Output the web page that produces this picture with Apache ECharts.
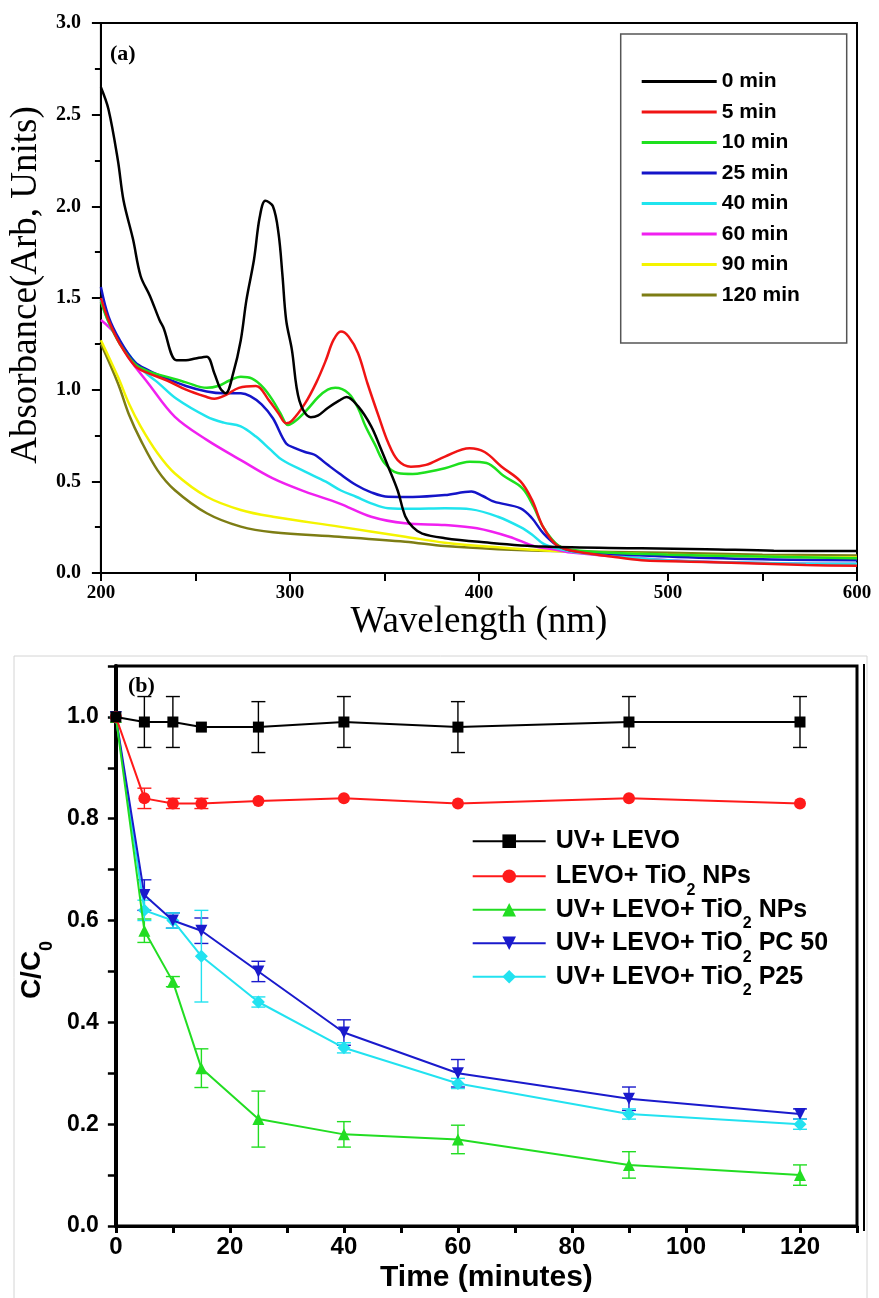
<!DOCTYPE html>
<html>
<head>
<meta charset="utf-8">
<script src="https://cdn.jsdelivr.net/npm/echarts@6/dist/echarts.min.js"></script>
<style>
  html, body { margin: 0; padding: 0; background: #fff; }
  #chart { width: 879px; height: 1298px; }
</style>
</head>
<body>
<div id="chart"></div>
<script>
// ---- panel (a): absorbance spectra, one wavelength / absorbance pair per time ----
const wl0   = [200,204,209,212,217,221,226,231,233,240,245,250,256,260,263,266,270,274,277,281,284,287,291,294,296,298,301,305,311,315,320,326,330,336,343,348,352,357,361,365,370,382,400,434,486,520,556,600];
const abs0  = [2.65,2.53,2.25,2.03,1.82,1.62,1.51,1.38,1.34,1.16,1.16,1.17,1.18,1.09,1.01,0.98,1.09,1.27,1.49,1.71,1.94,2.03,2.0,1.85,1.63,1.38,1.22,0.94,0.85,0.86,0.90,0.94,0.96,0.91,0.80,0.68,0.58,0.45,0.31,0.25,0.215,0.19,0.17,0.144,0.135,0.13,0.122,0.12];
const wl5   = [200,204,210,218,225,235,245,256,260,266,273,282,289,294,298,301,308,314,319,323,327,331,336,341,347,352,357,364,372,382,395,403,412,422,428,434,441,450,470,486,520,573,600];
const abs5  = [1.50,1.38,1.25,1.13,1.09,1.05,1.0,0.96,0.95,0.97,1.01,1.02,0.94,0.87,0.817,0.83,0.925,1.04,1.16,1.27,1.317,1.29,1.20,1.035,0.853,0.71,0.616,0.58,0.59,0.635,0.68,0.66,0.58,0.50,0.40,0.25,0.153,0.12,0.09,0.07,0.06,0.044,0.04];
const wl10  = [200,204,210,218,225,235,245,256,262,268,274,280,286,291,295,299,303,309,315,320,324,331,336,340,345,350,357,365,372,382,395,404,413,423,429,434,442,450,470,500,550,600];
const abs10 = [1.48,1.37,1.25,1.14,1.10,1.07,1.04,1.01,1.02,1.05,1.07,1.06,1.01,0.94,0.87,0.807,0.83,0.89,0.96,1.0,1.01,0.98,0.90,0.80,0.70,0.60,0.545,0.54,0.55,0.571,0.607,0.60,0.53,0.462,0.36,0.25,0.15,0.125,0.11,0.10,0.09,0.08];
const wl25  = [200,204,210,218,225,235,245,256,265,274,279,285,291,298,303,308,313,320,326,335,343,352,365,382,396,402,408,422,428,434,441,450,500,550,600];
const abs25 = [1.56,1.40,1.27,1.15,1.107,1.06,1.02,0.99,0.98,0.98,0.965,0.92,0.844,0.707,0.68,0.66,0.645,0.59,0.544,0.48,0.44,0.416,0.415,0.425,0.444,0.42,0.389,0.353,0.30,0.217,0.153,0.12,0.09,0.075,0.07];
const wl40  = [200,204,210,218,225,230,240,256,265,274,282,290,296,308,319,327,335,343,352,365,382,396,410,422,428,434,441,450,500,550,600];
const abs40 = [1.49,1.37,1.26,1.15,1.08,1.04,0.95,0.853,0.82,0.80,0.744,0.67,0.616,0.553,0.498,0.45,0.416,0.38,0.353,0.35,0.353,0.347,0.307,0.25,0.21,0.16,0.135,0.115,0.07,0.055,0.05];
const wl60  = [200,207,215,225,239,256,274,291,308,326,343,361,382,399,416,430,439,450,500,550,600];
const abs60 = [1.38,1.31,1.17,1.035,0.853,0.726,0.616,0.516,0.444,0.38,0.307,0.271,0.262,0.244,0.198,0.144,0.13,0.11,0.07,0.055,0.05];
const wl90  = [200,209,215,221,230,239,256,274,291,326,361,382,410,440,500,550,600];
const abs90 = [1.27,1.07,0.92,0.80,0.653,0.544,0.416,0.344,0.307,0.253,0.198,0.165,0.14,0.12,0.10,0.09,0.085];
const wl120  = [200,209,215,221,230,239,256,274,291,326,361,382,410,440,500,550,600];
const abs120 = [1.25,1.035,0.86,0.726,0.56,0.453,0.326,0.253,0.222,0.198,0.171,0.147,0.13,0.12,0.11,0.10,0.095];

const spectraNames  = ['0 min','5 min','10 min','25 min','40 min','60 min','90 min','120 min'];
const spectraColors = ['#000000','#f01414','#1ee01e','#1414c8','#20e4ee','#f020f0','#f4f400','#7d7d14'];
const spectraX = [wl0, wl5, wl10, wl25, wl40, wl60, wl90, wl120];
const spectraY = [abs0, abs5, abs10, abs25, abs40, abs60, abs90, abs120];

// ---- panel (b): C/C0 vs time ----
const timeMin = [0, 5, 10, 15, 25, 40, 60, 90, 120];
const uvLevo     = [1.0, 0.99, 0.99, 0.98, 0.98, 0.99, 0.98, 0.99, 0.99];
const levoTio2   = [1.0, 0.84, 0.83, 0.83, 0.835, 0.84, 0.83, 0.84, 0.83];
const uvLevoNps  = [1.0, 0.58, 0.48, 0.31, 0.21, 0.18, 0.17, 0.12, 0.10];
const uvLevoPc50 = [1.0, 0.65, 0.60, 0.58, 0.50, 0.38, 0.30, 0.25, 0.22];
const uvLevoP25  = [1.0, 0.62, 0.60, 0.53, 0.44, 0.35, 0.28, 0.22, 0.20];
const errUvLevo     = [0, 0.05, 0.05, 0, 0.05, 0.05, 0.05, 0.05, 0.05];
const errLevoTio2   = [0, 0.02, 0.01, 0.01, 0, 0, 0, 0, 0];
const errUvLevoNps  = [0, 0.023, 0.01, 0.038, 0.055, 0.025, 0.028, 0.026, 0.02];
const errUvLevoPc50 = [0, 0.03, 0.015, 0.025, 0.02, 0.025, 0.027, 0.023, 0.01];
const errUvLevoP25  = [0, 0.02, 0.015, 0.09, 0.01, 0.01, 0.01, 0.01, 0.01];

const kineticNames  = ['UV+ LEVO','LEVO+ TiO2 NPs','UV+ LEVO+ TiO2 NPs','UV+ LEVO+ TiO2 PC 50','UV+ LEVO+ TiO2 P25'];
const kineticColors = ['#000000','#ff1a1a','#22dd22','#1a1acc','#22e2f0'];
const kineticVals   = [uvLevo, levoTio2, uvLevoNps, uvLevoPc50, uvLevoP25];
const kineticErrs   = [errUvLevo, errLevoTio2, errUvLevoNps, errUvLevoPc50, errUvLevoP25];
const kineticSymbols = ['rect','circle','triangle','triangle','diamond'];
const kineticRotate  = [0, 0, 0, 180, 0];
const kineticSizes   = [11, 12, 12, 12, 13];

const SANS = 'Liberation Sans';
const SERIF = 'Liberation Serif';

const myChart = echarts.init(document.getElementById('chart'));

const series = []
spectraNames.forEach((n, i) => {
  series.push({
    name: n,
    type: 'line',
    xAxisIndex: 0,
    yAxisIndex: 0,
    symbol: 'none',
    smooth: 0.35,
    silent: true,
    lineStyle: { color: spectraColors[i], width: 2.5 },
    itemStyle: { color: spectraColors[i] },
    data: spectraX[i].map((x, k) => [x, spectraY[i][k]]),
    z: 10 - i
  })
})

const errorSeries = (vals, errs, color, idx) => ({
  name: 'err' + idx,
  type: 'custom',
  xAxisIndex: 1,
  yAxisIndex: 1,
  silent: true,
  z: 2,
  data: timeMin.map((t, k) => [t, vals[k] - errs[k], vals[k] + errs[k]]).filter((d, k) => errs[k] > 0),
  encode: { x: 0, y: [1, 2] },
  renderItem: (params, api) => {
    const lo = api.coord([api.value(0), api.value(1)])
    const hi = api.coord([api.value(0), api.value(2)])
    const w = 7
    const st = { stroke: color, lineWidth: 1.4 }
    return {
      type: 'group',
      children: [
        { type: 'line', shape: { x1: hi[0], y1: hi[1], x2: lo[0], y2: lo[1] }, style: st },
        { type: 'line', shape: { x1: hi[0] - w, y1: hi[1], x2: hi[0] + w, y2: hi[1] }, style: st },
        { type: 'line', shape: { x1: lo[0] - w, y1: lo[1], x2: lo[0] + w, y2: lo[1] }, style: st }
      ]
    }
  }
})

kineticNames.forEach((n, i) => {
  series.push(errorSeries(kineticVals[i], kineticErrs[i], kineticColors[i], i))
  series.push({
    name: n,
    type: 'line',
    xAxisIndex: 1,
    yAxisIndex: 1,
    symbol: kineticSymbols[i],
    symbolSize: kineticSizes[i],
    symbolRotate: kineticRotate[i],
    showAllSymbol: true,
    silent: true,
    lineStyle: { color: kineticColors[i], width: 2 },
    itemStyle: { color: kineticColors[i] },
    data: timeMin.map((t, k) => [t, kineticVals[i][k]]),
    z: 10 - i
  })
})

// legend text with TiO2 subscript
const subFormat = (name) => {
  const parts = name.split('TiO2')
  if (parts.length < 2) return '{a|' + name + '}'
  return '{a|' + parts[0] + 'TiO}{s|2}{a|' + parts[1] + '}'
}
const richB = {
  a: { fontFamily: SANS, fontWeight: 'bold', fontSize: 25, lineHeight: 28, color: '#000' },
  s: { fontFamily: SANS, fontWeight: 'bold', fontSize: 16, lineHeight: 16, padding: [28, 0, 0, 0], color: '#000' }
}
const legendRowsB = [842.7, 876.2, 909.7, 943.2, 976.7]
const legendsB = kineticNames.map((n, i) => ({
  data: [n],
  orient: 'vertical',
  left: 471.7,
  top: legendRowsB[i] - (n.indexOf('TiO2') >= 0 ? 22 : 14),
  padding: 0,
  itemWidth: 73,
  itemHeight: 17,
  selectedMode: false,
  formatter: subFormat,
  textStyle: { padding: [0, 0, 0, 5], rich: richB }
}))

const options = {
  animation: false,
  backgroundColor: '#fff',
  grid: [
    { left: 93, top: 23, width: 764, height: 550, show: true, borderColor: '#000', borderWidth: 2, backgroundColor: 'transparent', containLabel: false },
    { left: 115, top: 666, width: 742, height: 560, show: true, borderColor: '#000', borderWidth: 3, backgroundColor: 'transparent', containLabel: false }
  ],
  legend: [
    {
      data: spectraNames,
      orient: 'vertical',
      left: 641.7,
      top: 71,
      padding: 0,
      icon: 'rect',
      itemWidth: 75,
      itemHeight: 3,
      itemGap: 9.5,
      selectedMode: false,
      textStyle: { fontFamily: SANS, fontWeight: 'bold', fontSize: 21, lineHeight: 21, color: '#000' }
    }
  ].concat(legendsB),
  xAxis: [
    {
      gridIndex: 0,
      type: 'value',
      min: 200,
      max: 600,
      interval: 100,
      name: 'Wavelength (nm)',
      nameLocation: 'middle',
      nameGap: 27,
      nameTextStyle: { fontFamily: SERIF, fontSize: 37, color: '#000' },
      axisLine: { show: true, lineStyle: { color: '#000', width: 2 } },
      axisTick: { show: true, inside: false, length: 8, lineStyle: { color: '#000', width: 2 } },
      minorTick: { show: true, splitNumber: 2, length: 8, lineStyle: { color: '#000', width: 2 } },
      splitLine: { show: false },
      axisLabel: { fontFamily: SERIF, fontWeight: 'bold', fontSize: 19, color: '#000', margin: 11 }
    },
    {
      gridIndex: 1,
      type: 'value',
      min: 0,
      max: 130,
      interval: 10,
      name: 'Time (minutes)',
      nameLocation: 'middle',
      nameGap: 37,
      nameTextStyle: { fontFamily: SANS, fontWeight: 'bold', fontSize: 30, color: '#000' },
      axisLine: { show: true, lineStyle: { color: '#000', width: 3 } },
      axisTick: { show: true, inside: false, length: 7, lineStyle: { color: '#000', width: 3 } },
      splitLine: { show: false },
      axisLabel: {
        fontFamily: SANS, fontWeight: 'bold', fontSize: 24, color: '#000', margin: 9,
        formatter: (v) => (v % 20 === 0 && v <= 120 ? String(v) : '')
      }
    }
  ],
  yAxis: [
    {
      gridIndex: 0,
      type: 'value',
      min: 0,
      max: 3,
      interval: 0.5,
      name: 'Absorbance(Arb, Units)',
      nameLocation: 'middle',
      nameGap: 47,
      nameTextStyle: { fontFamily: SERIF, fontSize: 37, color: '#000', padding: [0, 0, 0, 26] },
      axisLine: { show: true, lineStyle: { color: '#000', width: 2 } },
      axisTick: { show: true, inside: false, length: 9, lineStyle: { color: '#000', width: 2 } },
      minorTick: { show: true, splitNumber: 2, length: 6, lineStyle: { color: '#000', width: 2 } },
      splitLine: { show: false },
      axisLabel: {
        fontFamily: SERIF, fontWeight: 'bold', fontSize: 20, color: '#000', margin: 20,
        formatter: (v) => v.toFixed(1)
      }
    },
    {
      gridIndex: 1,
      type: 'value',
      min: 0,
      max: 1.1,
      interval: 0.1,
      name: '{a|C/C}{s|0}',
      nameLocation: 'middle',
      nameGap: 58,
      nameTextStyle: {
        color: '#000',
        padding: [0, 48, 0, 0],
        rich: {
          a: { fontFamily: SANS, fontWeight: 'bold', fontSize: 28, lineHeight: 30, color: '#000' },
          s: { fontFamily: SANS, fontWeight: 'bold', fontSize: 18, lineHeight: 18, padding: [30, 0, 0, 0], color: '#000' }
        }
      },
      axisLine: { show: true, lineStyle: { color: '#000', width: 4 } },
      axisTick: { show: true, inside: false, length: 8, lineStyle: { color: '#000', width: 2.5 } },
      splitLine: { show: false },
      axisLabel: {
        fontFamily: SANS, fontWeight: 'bold', fontSize: 23, color: '#000', margin: 17,
        formatter: (v) => {
          const k = Math.round(v * 10)
          return k % 2 === 0 && k <= 10 ? (k / 10).toFixed(1) : ''
        }
      }
    }
  ],
  graphic: [
    { type: 'rect', shape: { x: 620.7, y: 34, width: 226, height: 309 }, style: { fill: 'none', stroke: '#555', lineWidth: 1.5 }, z: 1 },
    { type: 'rect', shape: { x: 14, y: 656, width: 853, height: 660 }, style: { fill: 'none', stroke: '#d4d4d4', lineWidth: 1 }, z: 1 },
    { type: 'line', shape: { x1: 864, y1: 664, x2: 864, y2: 1231 }, style: { stroke: '#000', lineWidth: 2 }, z: 1 },
    { type: 'text', left: 110, top: 43, style: { text: '(a)', fontFamily: SERIF, fontWeight: 'bold', fontSize: 22, fill: '#000' } },
    { type: 'text', left: 128, top: 675, style: { text: '(b)', fontFamily: SERIF, fontWeight: 'bold', fontSize: 22, fill: '#000' } }
  ],
  series: series
}

myChart.setOption(options)
</script>
</body>
</html>
